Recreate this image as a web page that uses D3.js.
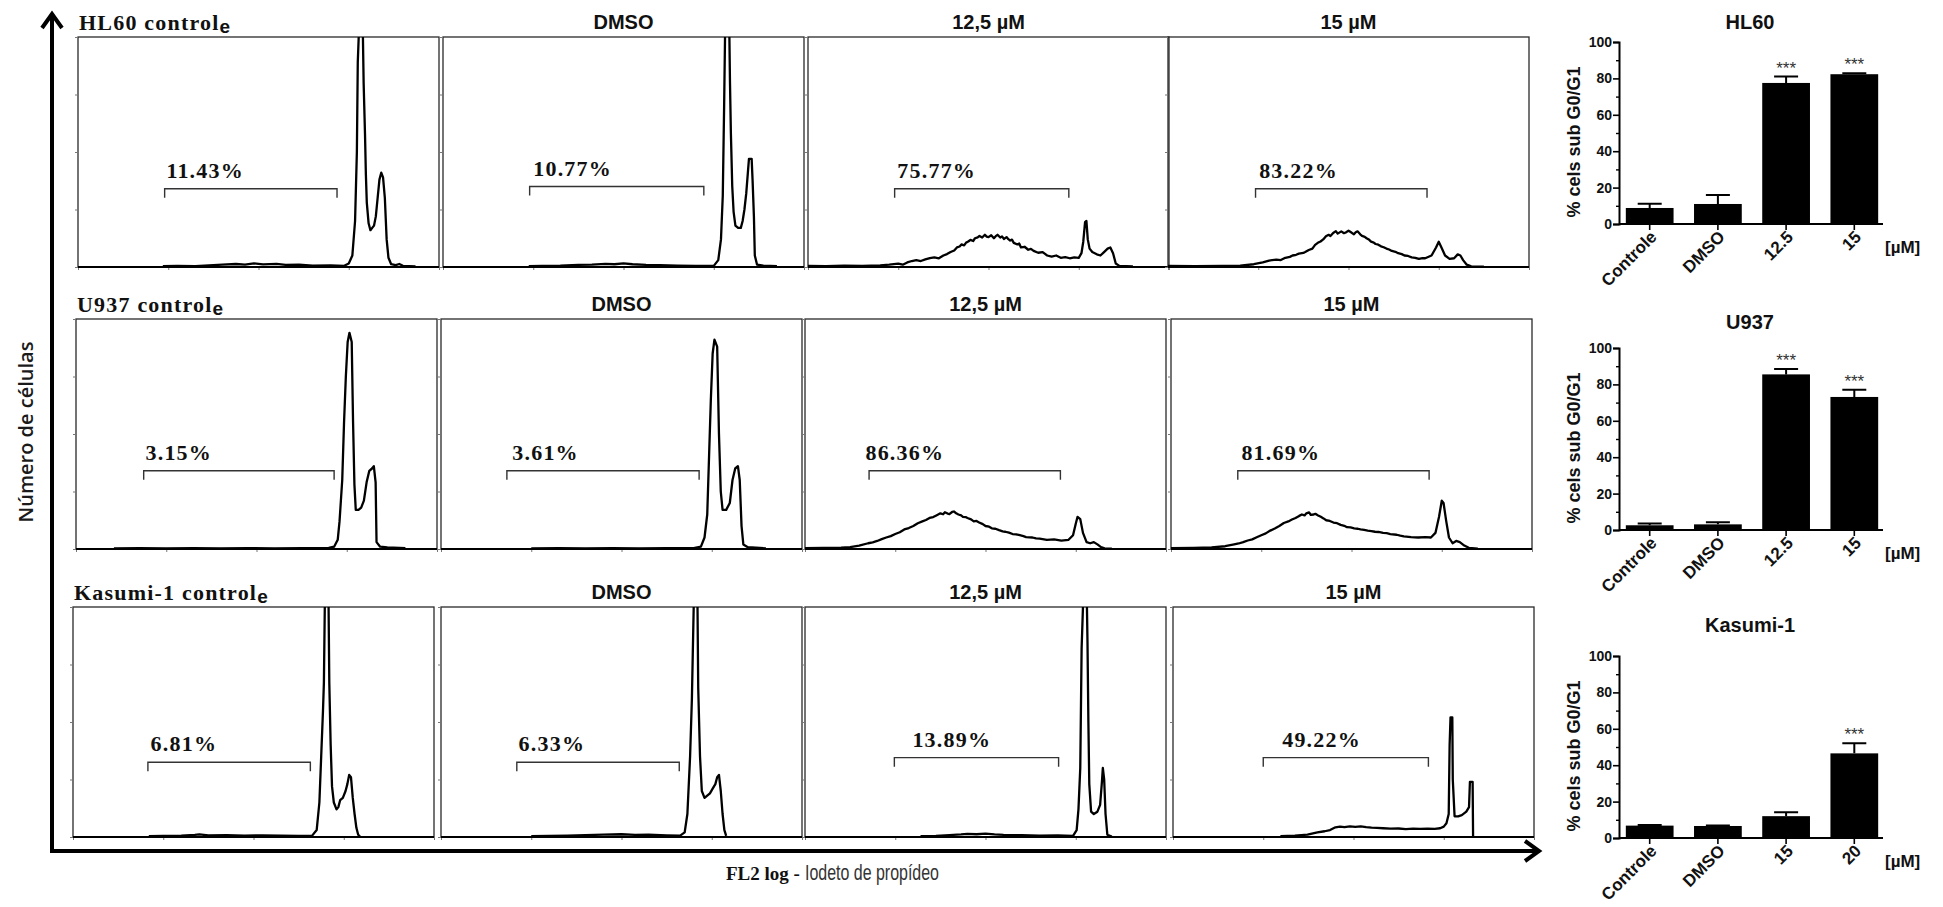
<!DOCTYPE html>
<html>
<head>
<meta charset="utf-8">
<script src="https://cdn.jsdelivr.net/npm/d3@7"></script>
<style>
  html, body { margin: 0; padding: 0; background: #fff; }
  svg { display: block; }
</style>
</head>
<body>
<svg id="fig" width="1943" height="907"></svg>
<script>
// ---------- Flow cytometry histograms: [log10 FL2 intensity, relative cell count (% of full scale)] ----------
const hl60Controle = [[0.94,0.4],[1.1,0.5],[1.3,0.4],[1.5,0.8],[1.6,1.0],[1.75,1.3],[1.85,1.0],[1.95,1.6],[2.05,1.1],[2.2,1.4],[2.3,0.9],[2.45,1.0],[2.6,0.6],[2.8,0.7],[2.95,0.5],[3.0,1.5],[3.04,5],[3.07,20],[3.09,50],[3.1,89],[3.115,105],[3.155,105],[3.165,80],[3.18,58],[3.19,40],[3.2,28],[3.22,19],[3.24,16],[3.26,17],[3.28,18],[3.3,22],[3.32,30],[3.34,38],[3.36,41],[3.38,39],[3.4,30],[3.42,12],[3.44,4],[3.47,1.2],[3.52,0.8],[3.56,1.3],[3.6,0.5],[3.74,0.3]];
const hl60Dmso = [[0.95,0.4],[1.1,0.5],[1.3,0.6],[1.5,0.9],[1.65,1.0],[1.8,1.4],[1.9,1.2],[2.0,1.6],[2.1,1.2],[2.25,0.9],[2.4,0.8],[2.6,0.6],[2.8,0.5],[3.0,0.5],[3.05,3],[3.08,12],[3.1,31],[3.115,70],[3.125,100],[3.14,110],[3.17,110],[3.18,80],[3.19,58],[3.205,35],[3.22,24],[3.24,18],[3.27,17],[3.3,17],[3.32,20],[3.34,25],[3.36,32],[3.38,42],[3.39,47],[3.42,47],[3.43,38],[3.445,22],[3.455,5],[3.48,1],[3.55,0.6],[3.7,0.4]];
const hl60Dose125 = [[0,0.5],[0.2,0.4],[0.4,0.6],[0.6,0.5],[0.8,0.7],[0.9,1.0],[1.0,1.5],[1.05,1.0],[1.1,2.0],[1.15,2.6],[1.2,3.0],[1.25,2.6],[1.3,3.3],[1.35,3.9],[1.4,4.2],[1.45,3.8],[1.5,5.0],[1.54,5.6],[1.58,6.5],[1.62,7.2],[1.65,8.5],[1.68,8.9],[1.7,9.8],[1.73,9.4],[1.75,10.5],[1.78,11.2],[1.8,11.8],[1.83,11.3],[1.85,12.5],[1.88,12.9],[1.9,13.5],[1.93,12.8],[1.96,14],[1.98,13.2],[2.0,13],[2.03,13.8],[2.06,12.5],[2.08,13.4],[2.1,14],[2.13,12.8],[2.15,13.3],[2.17,12.2],[2.2,13],[2.22,12.1],[2.24,11.5],[2.26,11.9],[2.28,10.5],[2.32,9.8],[2.34,10.2],[2.36,8.5],[2.4,8.8],[2.44,7.5],[2.47,7.9],[2.5,7],[2.55,6.2],[2.6,6.5],[2.63,5.6],[2.65,5],[2.7,4.5],[2.75,5],[2.8,4],[2.85,4.3],[2.9,3.8],[2.95,4.2],[3.0,4.0],[3.03,6],[3.05,11],[3.07,19.5],[3.085,20],[3.1,12],[3.12,8],[3.15,6.5],[3.2,5.5],[3.24,5],[3.28,6.5],[3.32,8],[3.35,8.5],[3.38,6],[3.41,1.5],[3.45,0.5],[3.6,0.3]];
const hl60Dose15 = [[0,0.5],[0.3,0.4],[0.6,0.5],[0.8,0.6],[0.95,1.2],[1.05,2],[1.12,2.8],[1.2,3.2],[1.25,3.0],[1.3,4],[1.35,4.4],[1.38,5],[1.42,5.3],[1.45,5.8],[1.5,6.1],[1.52,6.5],[1.56,7.4],[1.6,8],[1.63,9.6],[1.66,10.5],[1.69,11.1],[1.72,12],[1.75,13.4],[1.78,14],[1.8,13.5],[1.83,14.8],[1.86,15.6],[1.88,14.5],[1.92,15.5],[1.95,14.7],[1.97,15],[2.0,15.8],[2.02,15.3],[2.06,14.2],[2.08,15.1],[2.1,15.5],[2.13,14.2],[2.15,13.5],[2.18,13.1],[2.2,12.5],[2.23,11.8],[2.25,11],[2.28,10.6],[2.3,10],[2.33,9.7],[2.36,9],[2.39,8.6],[2.42,8],[2.45,7.6],[2.48,7],[2.52,6.6],[2.55,6],[2.59,5.6],[2.62,5],[2.66,4.8],[2.7,4.2],[2.74,4.0],[2.78,3.5],[2.82,3.9],[2.85,3.8],[2.92,5],[2.97,8.5],[3.0,11],[3.03,8.5],[3.07,5],[3.12,3.5],[3.17,3.8],[3.21,5.5],[3.24,5],[3.27,3],[3.31,1],[3.36,0.3],[3.5,0.2]];

const u937Controle = [[0.42,0.3],[0.7,0.4],[1.0,0.3],[1.3,0.4],[1.6,0.3],[1.9,0.4],[2.2,0.3],[2.5,0.4],[2.8,0.5],[2.86,1],[2.9,4],[2.92,12],[2.95,30],[2.97,55],[2.99,75],[3.01,90],[3.03,94],[3.055,90],[3.07,55],[3.085,28],[3.1,17],[3.13,17],[3.16,18],[3.19,21],[3.22,29],[3.25,34],[3.28,35],[3.3,36],[3.32,29],[3.33,3],[3.37,1],[3.45,0.7],[3.65,0.4]];
const u937Dmso = [[1.0,0.3],[1.3,0.4],[1.6,0.3],[1.9,0.4],[2.2,0.3],[2.5,0.4],[2.8,0.4],[2.88,1],[2.92,5],[2.95,15],[2.97,40],[2.99,65],[3.01,85],[3.03,91],[3.06,88],[3.08,50],[3.1,25],[3.12,17],[3.16,17],[3.2,20],[3.23,30],[3.26,35],[3.29,36],[3.31,30],[3.33,10],[3.35,2],[3.4,0.8],[3.6,0.3]];
const u937Dose125 = [[0,0.4],[0.2,0.5],[0.4,0.6],[0.5,0.8],[0.6,1.5],[0.7,2.5],[0.75,2.9],[0.8,3.5],[0.85,4.3],[0.9,5],[0.95,5.6],[1.0,6.5],[1.05,7.3],[1.1,8.5],[1.15,9.1],[1.2,10],[1.25,11.2],[1.3,12],[1.34,12.6],[1.38,13.5],[1.42,13.9],[1.45,14.5],[1.48,15.1],[1.5,15.5],[1.53,15.1],[1.55,16],[1.58,15.4],[1.6,15.2],[1.63,16.1],[1.65,16.3],[1.68,15.4],[1.7,15],[1.73,14.6],[1.75,14],[1.78,13.9],[1.8,13.5],[1.84,12.9],[1.87,12],[1.9,12.2],[1.93,11.5],[1.97,10.8],[2.0,10],[2.04,9.7],[2.07,9],[2.11,8.8],[2.15,8.2],[2.19,7.7],[2.22,7.5],[2.26,7.1],[2.3,6.5],[2.34,6.4],[2.38,6],[2.42,5.6],[2.45,5.2],[2.52,5],[2.56,4.6],[2.6,4.5],[2.68,4],[2.76,4.2],[2.84,3.6],[2.92,4],[2.97,6],[3.0,11],[3.02,14],[3.05,13],[3.08,7],[3.12,3],[3.16,2.5],[3.2,3],[3.24,2],[3.28,0.8],[3.32,0.3],[3.4,0.2]];
const u937Dose15 = [[0,0.4],[0.25,0.5],[0.45,0.7],[0.6,1.2],[0.7,2],[0.75,2.4],[0.8,3],[0.85,3.7],[0.9,4.2],[0.95,5.1],[1.0,6],[1.05,6.8],[1.1,8],[1.15,8.9],[1.2,10],[1.25,11.3],[1.3,12],[1.34,12.8],[1.38,13.5],[1.42,14.4],[1.45,15],[1.48,14.6],[1.5,15.5],[1.53,15.9],[1.55,14.8],[1.58,15.0],[1.6,15.3],[1.63,14.6],[1.66,14],[1.69,13.3],[1.72,12.5],[1.76,12.2],[1.8,11.5],[1.84,11.2],[1.88,10.5],[1.92,10.1],[1.95,9.5],[1.99,9.4],[2.03,9],[2.07,8.8],[2.1,8.5],[2.14,8.3],[2.18,8],[2.22,7.8],[2.26,7.5],[2.3,7.4],[2.35,7],[2.39,6.9],[2.43,6.5],[2.5,6.2],[2.54,5.8],[2.58,5.5],[2.66,5.2],[2.74,5],[2.82,5.2],[2.88,5],[2.93,7],[2.97,14],[3.0,21],[3.02,20],[3.05,12],[3.08,5],[3.12,2.5],[3.16,3.5],[3.2,3],[3.25,1.5],[3.3,0.5],[3.4,0.2]];

const kasumiControle = [[0.84,0.4],[1.0,0.5],[1.2,0.6],[1.35,0.9],[1.4,1.1],[1.5,0.7],[1.7,0.8],[1.9,0.6],[2.1,0.7],[2.3,0.6],[2.5,0.5],[2.65,0.6],[2.7,3],[2.73,15],[2.75,35],[2.77,55],[2.78,67],[2.79,100],[2.8,108],[2.83,108],[2.84,67],[2.855,40],[2.87,22],[2.89,15],[2.92,12],[2.94,13],[2.96,16],[2.99,17],[3.02,20],[3.04,23],[3.06,27],[3.08,26],[3.1,17],[3.12,10],[3.14,4],[3.16,1],[3.18,0.2]];
const kasumiDmso = [[1.0,0.4],[1.2,0.5],[1.4,0.6],[1.6,0.8],[1.8,1.0],[2.0,1.2],[2.15,0.9],[2.3,1.0],[2.5,0.7],[2.65,0.6],[2.7,2],[2.73,10],[2.76,35],[2.78,60],[2.8,100],[2.81,110],[2.84,110],[2.85,65],[2.87,35],[2.89,20],[2.92,17],[2.95,18],[2.98,19],[3.01,21],[3.04,23],[3.06,26],[3.08,27],[3.1,20],[3.12,10],[3.14,3],[3.16,0.5]];
const kasumiDose125 = [[1.28,0.4],[1.45,0.5],[1.6,0.8],[1.73,1.1],[1.8,1.4],[1.9,1.2],[2.0,1.5],[2.1,1.1],[2.2,0.9],[2.4,0.8],[2.6,0.6],[2.8,0.7],[2.97,0.5],[3.01,3],[3.03,12],[3.05,30],[3.065,82],[3.08,100],[3.09,110],[3.12,110],[3.13,85],[3.14,50],[3.15,23],[3.17,11],[3.2,10],[3.24,11],[3.27,14],[3.29,24],[3.3,30],[3.315,25],[3.33,10],[3.35,1],[3.4,0.2]];
const kasumiDose15 = [[1.19,0.4],[1.35,0.6],[1.49,1.0],[1.6,2],[1.68,2.5],[1.74,3],[1.8,4.2],[1.85,4.5],[1.9,4.3],[1.96,4.6],[2.02,4.4],[2.08,4.6],[2.14,4.3],[2.2,4.1],[2.26,4.0],[2.33,3.8],[2.41,3.6],[2.5,3.7],[2.58,3.4],[2.66,3.6],[2.74,3.5],[2.82,3.6],[2.9,3.5],[2.96,3.8],[3.0,4.5],[3.03,6],[3.055,10],[3.065,40],[3.075,52],[3.095,52],[3.1,25],[3.12,9],[3.16,9],[3.2,9.5],[3.25,11],[3.28,13],[3.29,24],[3.32,24],[3.325,0]];

// ---------- Sub-G0/G1 gates (log10 FL2 bounds, marker level in % of full scale) ----------
const gatePercent = [[11.43, 10.77, 75.77, 83.22], [3.15, 3.61, 86.36, 81.69], [6.81, 6.33, 13.89, 49.22]];
const gateLow     = [[0.96, 0.96, 0.96, 0.97], [0.75, 0.73, 0.71, 0.74], [0.83, 0.84, 0.99, 1.00]];
const gateHigh    = [[2.87, 2.89, 2.89, 2.87], [2.86, 2.86, 2.83, 2.86], [2.63, 2.64, 2.81, 2.83]];
const gateLevel   = [[34, 35, 34, 34], [34, 34, 34, 34], [32.5, 32.5, 34.5, 34.5]];
const gateLabelAt = [[0.98, 1.0, 0.99, 1.01], [0.77, 0.79, 0.67, 0.78], [0.86, 0.86, 1.19, 1.21]];

const cellLines = ["HL60", "U937", "Kasumi-1"];
const treatments = ["controle", "DMSO", "12,5 µM", "15 µM"];

// ---------- Summary bars: % cells in sub G0/G1 (mean + SEM) ----------
const hl60Groups = ["Controle", "DMSO", "12.5", "15"];
const hl60Mean = [8.8, 11.0, 77.5, 82.3];
const hl60Err  = [2.3, 5.0, 3.5, 0.5];
const hl60Sig  = ["", "", "***", "***"];

const u937Groups = ["Controle", "DMSO", "12.5", "15"];
const u937Mean = [2.6, 3.1, 85.5, 73.1];
const u937Err  = [1.0, 1.2, 3.0, 4.0];
const u937Sig  = ["", "", "***", "***"];

const kasumiGroups = ["Controle", "DMSO", "15", "20"];
const kasumiMean = [6.8, 6.6, 12.0, 46.5];
const kasumiErr  = [0.4, 0.3, 2.2, 5.5];
const kasumiSig  = ["", "", "", "***"];

const barYTicks = [0, 20, 40, 60, 80, 100];
const barYMinor = [10, 30, 50, 70, 90];
const histXTicks = [0, 1, 2, 3, 4];
const histYTicks = [0, 25, 50, 75, 100];

// ---------- Layout ----------
const svg = d3.select("#fig");
const panelW = 361, panelH = 230;
const rowTops = [37, 319, 607];
const colLefts = [[78, 443, 808, 1168], [76, 441, 805, 1171], [73, 441, 805, 1173]];

const SERIF = "'Liberation Serif', 'Times New Roman', serif";
const SANS = "'Liberation Sans', Arial, sans-serif";

const histograms = [
  [hl60Controle, hl60Dmso, hl60Dose125, hl60Dose15],
  [u937Controle, u937Dmso, u937Dose125, u937Dose15],
  [kasumiControle, kasumiDmso, kasumiDose125, kasumiDose15]
];

const defs = svg.append("defs");

histograms.forEach((row, r) => {
  row.forEach((data, c) => {
    const left = colLefts[r][c], top = rowTops[r];
    const x = d3.scaleLinear().domain([0, 4]).range([left, left + panelW]);
    const y = d3.scaleLinear().domain([0, 100]).range([top + panelH, top]);
    const g = svg.append("g").attr("class", `panel r${r} c${c}`);

    const clipId = `clip-${r}-${c}`;
    defs.append("clipPath").attr("id", clipId)
      .append("rect").attr("x", left).attr("y", top).attr("width", panelW).attr("height", panelH);

    // frame
    g.append("rect")
      .attr("x", left).attr("y", top).attr("width", panelW).attr("height", panelH)
      .attr("fill", "none").attr("stroke", "#2a2a2a").attr("stroke-width", 1.3);

    // small outward ticks
    g.append("g").attr("transform", `translate(0,${top + panelH})`)
      .call(d3.axisBottom(x).tickValues(histXTicks).tickSize(3).tickFormat(""))
      .call(a => a.select(".domain").remove())
      .call(a => a.selectAll("line").attr("stroke", "#777"));
    g.append("g").attr("transform", `translate(${left},0)`)
      .call(d3.axisLeft(y).tickValues(histYTicks).tickSize(3).tickFormat(""))
      .call(a => a.select(".domain").remove())
      .call(a => a.selectAll("line").attr("stroke", "#777"));

    // baseline
    g.append("line")
      .attr("x1", left).attr("x2", left + panelW)
      .attr("y1", y(0)).attr("y2", y(0))
      .attr("stroke", "#000").attr("stroke-width", 2.2);

    // histogram trace
    g.append("path").datum(data)
      .attr("clip-path", `url(#${clipId})`)
      .attr("d", d3.line().x(d => x(d[0])).y(d => y(d[1])))
      .attr("fill", "none").attr("stroke", "#000").attr("stroke-width", 2.3)
      .attr("stroke-linejoin", "round");

    // sub G0/G1 gate marker
    const gy = y(gateLevel[r][c]);
    g.append("path")
      .attr("d", `M${x(gateLow[r][c])},${gy + 9}V${gy}H${x(gateHigh[r][c])}V${gy + 9}`)
      .attr("fill", "none").attr("stroke", "#333").attr("stroke-width", 1.4);
    g.append("text")
      .attr("x", x(gateLabelAt[r][c])).attr("y", gy - 11)
      .attr("font-family", SERIF).attr("font-weight", "bold").attr("font-size", 22)
      .attr("letter-spacing", 1.2).attr("fill", "#111")
      .text(gatePercent[r][c].toFixed(2) + "%");

    // panel titles
    if (c === 0) {
      const t = svg.append("text")
        .attr("x", left + 1).attr("y", top - 7)
        .attr("font-family", SERIF).attr("font-weight", "bold").attr("font-size", 22)
        .attr("letter-spacing", 1.2).attr("fill", "#111")
        .text(`${cellLines[r]} ${treatments[0].slice(0, -1)}`);
      t.append("tspan").attr("font-family", SANS).attr("font-size", 19)
        .attr("letter-spacing", 0).attr("dy", 3).text(treatments[0].slice(-1));
    } else {
      svg.append("text")
        .attr("x", left + panelW / 2).attr("y", top - 8)
        .attr("text-anchor", "middle")
        .attr("font-family", SANS).attr("font-weight", "bold").attr("font-size", 20)
        .attr("fill", "#111")
        .text(treatments[c]);
    }
  });
});

// ---------- Shared axes with arrows ----------
const axisX0 = 52, axisY0 = 851, axisTop = 14, axisRight = 1539;
svg.append("path")
  .attr("d", `M${axisX0},${axisTop + 2}V${axisY0}H${axisRight - 2}`)
  .attr("fill", "none").attr("stroke", "#000").attr("stroke-width", 4);
svg.append("path")
  .attr("d", `M${axisX0 - 10},${axisTop + 14}L${axisX0},${axisTop}L${axisX0 + 10},${axisTop + 14}`)
  .attr("fill", "none").attr("stroke", "#000").attr("stroke-width", 4).attr("stroke-linejoin", "miter");
svg.append("path")
  .attr("d", `M${axisRight - 14},${axisY0 - 10}L${axisRight},${axisY0}L${axisRight - 14},${axisY0 + 10}`)
  .attr("fill", "none").attr("stroke", "#000").attr("stroke-width", 4).attr("stroke-linejoin", "miter");

svg.append("text")
  .attr("transform", `translate(33,432) rotate(-90)`)
  .attr("text-anchor", "middle")
  .attr("font-family", "'Open Sans', sans-serif").attr("font-weight", 600).attr("font-size", 20)
  .attr("fill", "#1a1a1a")
  .text("Número de células");

svg.append("text").attr("x", 726).attr("y", 880)
  .attr("font-family", SERIF).attr("font-weight", "bold").attr("font-size", 19)
  .attr("fill", "#111").text("FL2 log -");
svg.append("text").attr("x", 805).attr("y", 880)
  .attr("font-family", SANS).attr("font-size", 22)
  .attr("textLength", 134).attr("lengthAdjust", "spacingAndGlyphs")
  .attr("fill", "#333").text("Iodeto de propídeo");

// ---------- Bar charts ----------
const barCharts = [
  { title: "HL60", groups: hl60Groups, mean: hl60Mean, err: hl60Err, sig: hl60Sig, y0: 224, titleY: 29 },
  { title: "U937", groups: u937Groups, mean: u937Mean, err: u937Err, sig: u937Sig, y0: 530, titleY: 329 },
  { title: "Kasumi-1", groups: kasumiGroups, mean: kasumiMean, err: kasumiErr, sig: kasumiSig, y0: 838, titleY: 632 }
];
const barLeft = 1619, barRight = 1885, barH = 182;

barCharts.forEach(ch => {
  const g = svg.append("g").attr("class", "bars");
  const x = d3.scaleBand().domain(ch.groups).range([barLeft, barRight]).paddingInner(0.3).paddingOuter(0.1);
  const y = d3.scaleLinear().domain([0, 100]).range([ch.y0, ch.y0 - barH]);

  g.append("text")
    .attr("x", (barLeft + barRight) / 2 - 2).attr("y", ch.titleY)
    .attr("text-anchor", "middle")
    .attr("font-family", SANS).attr("font-weight", "bold").attr("font-size", 20)
    .attr("fill", "#111").text(ch.title);

  // bars
  g.selectAll("rect.bar").data(ch.mean).join("rect")
    .attr("class", "bar")
    .attr("x", (d, i) => x(ch.groups[i]))
    .attr("y", d => y(d))
    .attr("width", x.bandwidth())
    .attr("height", d => y(0) - y(d))
    .attr("fill", "#000");

  // error bars (upper)
  ch.mean.forEach((m, i) => {
    const cx = x(ch.groups[i]) + x.bandwidth() / 2;
    const yt = y(m + ch.err[i]);
    g.append("path")
      .attr("d", `M${cx},${y(m)}V${yt}M${cx - 12},${yt}H${cx + 12}`)
      .attr("stroke", "#000").attr("stroke-width", 2).attr("fill", "none");
    if (ch.sig[i]) {
      g.append("text")
        .attr("x", cx).attr("y", yt - 3)
        .attr("text-anchor", "middle")
        .attr("font-family", SANS).attr("font-size", 17)
        .attr("fill", "#333").text(ch.sig[i]);
    }
  });

  // y axis
  g.append("g").attr("transform", `translate(${barLeft},0)`)
    .call(d3.axisLeft(y).tickValues(barYTicks).tickSize(6).tickPadding(1))
    .call(a => a.select(".domain").attr("stroke-width", 2))
    .call(a => a.selectAll("line").attr("stroke-width", 1.6))
    .call(a => a.selectAll("text").attr("font-family", SANS).attr("font-weight", "bold")
      .attr("font-size", 14).attr("fill", "#111"));
  g.append("g").attr("transform", `translate(${barLeft},0)`)
    .call(d3.axisLeft(y).tickValues(barYMinor).tickSize(3).tickFormat(""))
    .call(a => a.select(".domain").remove())
    .call(a => a.selectAll("line").attr("stroke-width", 1.4));

  // x axis
  g.append("g").attr("transform", `translate(0,${ch.y0})`)
    .call(d3.axisBottom(x).tickSize(6).tickFormat(""))
    .call(a => a.select(".domain").attr("stroke-width", 2).attr("d", `M${barLeft},0H${barRight - 2}`))
    .call(a => a.selectAll("line").attr("stroke-width", 1.6));

  g.selectAll("text.xlab").data(ch.groups).join("text")
    .attr("class", "xlab")
    .attr("transform", d => `translate(${x(d) + x.bandwidth() / 2 + 8},${ch.y0 + 14}) rotate(-45)`)
    .attr("text-anchor", "end")
    .attr("font-family", SANS).attr("font-weight", "bold").attr("font-size", 17)
    .attr("fill", "#111").text(d => d);

  g.append("text")
    .attr("x", barRight).attr("y", ch.y0 + 29)
    .attr("font-family", SANS).attr("font-weight", "bold").attr("font-size", 17)
    .attr("fill", "#111").text("[µM]");

  g.append("text")
    .attr("transform", `translate(1580,${ch.y0 - 82}) rotate(-90)`)
    .attr("text-anchor", "middle")
    .attr("font-family", SANS).attr("font-weight", "bold").attr("font-size", 18)
    .attr("fill", "#111").text("% cels sub G0/G1");
});
</script>
</body>
</html>
